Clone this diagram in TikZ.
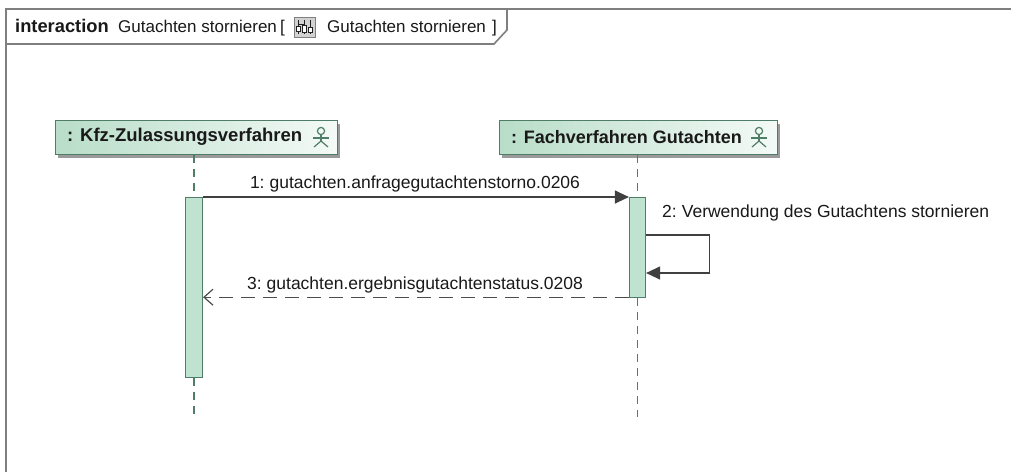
\documentclass[tikz,border=0pt]{standalone}
\usepackage{fontspec}
\setmainfont{Liberation Sans}
\usetikzlibrary{arrows.meta,positioning,calc}
\definecolor{framegray}{HTML}{7F7F7F}
\definecolor{lifegreen}{HTML}{4F7D67}
\definecolor{actfill}{HTML}{BFE2D1}
\definecolor{headleft}{HTML}{B8DDC8}
\definecolor{headright}{HTML}{F4FAF7}
\definecolor{shadowgray}{HTML}{9A9A9A}
\tikzset{
  txt/.style={font=\fontsize{17.5}{20}\selectfont, inner sep=0pt, text=black!90},
  hdtxt/.style={font=\fontsize{17}{20}\selectfont, inner sep=0pt, text=black!90},
  hdbold/.style={font=\fontsize{18.3}{20}\selectfont\bfseries, inner sep=0pt, text=black!90},
  nametxt/.style={font=\fontsize{18.5}{21}\selectfont\bfseries, inner sep=0pt, text=black!90},
  headbox/.style={draw=lifegreen, line width=1.2pt, left color=headleft, right color=headright, inner sep=0pt},
  headshadow/.style={fill=shadowgray, draw=none},
  actbar/.style={draw=lifegreen, line width=1.2pt, fill=actfill, inner sep=0pt},
  lifeline/.style={draw=lifegreen, line width=1.2pt, dash pattern=on 8pt off 6pt},
  msg/.style={draw=black!75, line width=1.2pt},
  reply/.style={draw=black!70, line width=1.2pt, dash pattern=on 14pt off 8pt},
  frameline/.style={draw=framegray, line width=1.6pt},
  actor/.style={draw=lifegreen, line width=1.2pt},
  iconline/.style={draw=gray!25!black, line width=0.8pt}
}
\newcommand{\actorfig}[1]{%
  \draw[actor] ($(#1)+(0,-6)$) circle (3.6pt);
  \draw[actor] ($(#1)+(0,-2.4)$) -- ($(#1)+(0,4)$);
  \draw[actor] ($(#1)+(-8,1)$) -- ($(#1)+(8,1)$);
  \draw[actor] ($(#1)+(-7,10)$) -- ($(#1)+(0,4)$) -- ($(#1)+(7,10)$);
}
\begin{document}
\begin{tikzpicture}[x=1pt,y=-1pt]
\useasboundingbox (0,0) rectangle (1011,472);
\fill[white] (0,0) rectangle (1011,472);
% frame
\draw[frameline] (1011,9) -- (6,9) -- (6,472);
\draw[frameline] (6,44) -- (494,44) -- (507,30) -- (507,9);
% header text
\node[hdbold, anchor=base west] (h1) at (15,32) {interaction};
\node[hdtxt, anchor=base west] (h2) at (118,32) {Gutachten stornieren};
\node[hdtxt, anchor=base west] (h3) at (280,32) {[};
\node[draw=gray, fill=gray!35, minimum width=21pt, minimum height=20pt, inner sep=0pt, anchor=west] (icon) at (294,27) {};
\draw[iconline] ($(icon.center)+(-6,-7)$) -- ($(icon.center)+(-6,7)$);
\draw[iconline] ($(icon.center)+(0,-7)$) -- ($(icon.center)+(0,7)$);
\draw[iconline] ($(icon.center)+(6,-7)$) -- ($(icon.center)+(6,7)$);
\draw[iconline] ($(icon.center)+(-6,-3)$) -- ($(icon.center)+(0,-3)$);
\draw[iconline, fill=white] ($(icon.center)+(-8,-1)$) rectangle ($(icon.center)+(-4,4)$);
\draw[iconline, fill=white] ($(icon.center)+(-2,-2)$) rectangle ($(icon.center)+(2,5)$);
\draw[iconline, fill=white] ($(icon.center)+(4,0)$) rectangle ($(icon.center)+(8,5)$);
\node[hdtxt, anchor=base west] (h4) at (327,32) {Gutachten stornieren};
\node[hdtxt, anchor=base west] (h5) at (492,32) {]};
% lifeline heads
\fill[headshadow] (58,124) rectangle (340,158);
\node[headbox, minimum width=282pt, minimum height=34pt, anchor=north west] (kfz) at (55,120) {};
\node[nametxt, anchor=west] (kfzname) at (67,137) {: Kfz-Zulassungsverfahren};
\coordinate (kfzactor) at (321,137);
\actorfig{kfzactor}
\fill[headshadow] (502,124) rectangle (780,158);
\node[headbox, minimum width=278pt, minimum height=34pt, anchor=north west] (fach) at (499,120) {};
\node[nametxt, font=\fontsize{18}{21}\selectfont\bfseries, anchor=west] (fachname) at (511,137) {: Fachverfahren Gutachten};
\coordinate (fachactor) at (759,137);
\actorfig{fachactor}
% lifelines
\coordinate (kfzend) at (194,417);
\coordinate (fachend) at (637.5,417);
\node[actbar, minimum width=17pt, minimum height=180pt, anchor=north] (act1) at (194,197) {};
\node[actbar, minimum width=16pt, minimum height=100pt, anchor=north] (act2) at (637.5,197) {};
\draw[lifeline] (kfz.south -| act1.north) -- (act1.north);
\draw[lifeline] (act1.south) -- (kfzend);
\draw[lifeline] (fach.south -| act2.north) -- (act2.north);
\draw[lifeline] (act2.south) -- (fachend);
% messages
\draw[msg, -{Triangle[length=14pt,width=13pt]}] (act1.north east) -- (act2.north west);
\node[txt, anchor=base] (m1) at (415,188) {1:\hspace{5pt}gutachten.anfragegutachtenstorno.0206};
\coordinate (s1) at ($(act2.north east)+(0,38)$);
\coordinate (s2) at ($(act2.north east)+(63,38)$);
\coordinate (s3) at ($(act2.north east)+(63,76)$);
\coordinate (s4) at ($(act2.north east)+(0,76)$);
\draw[msg, -{Triangle[length=14pt,width=13pt]}] (s1) -- (s2) -- (s3) -- (s4);
\node[txt, anchor=base west] (m2) at (662,217) {2:\hspace{5pt}Verwendung des Gutachtens stornieren};
\draw[reply, -{Straight Barb[length=9pt,width=16pt]}] ($(act2.south west)+(0,-1)$) -- ($(act1.east |- act2.south)+(0,-1)$);
\node[txt, anchor=base] (m3) at (415,289) {3:\hspace{5pt}gutachten.ergebnisgutachtenstatus.0208};
\end{tikzpicture}
\end{document}
